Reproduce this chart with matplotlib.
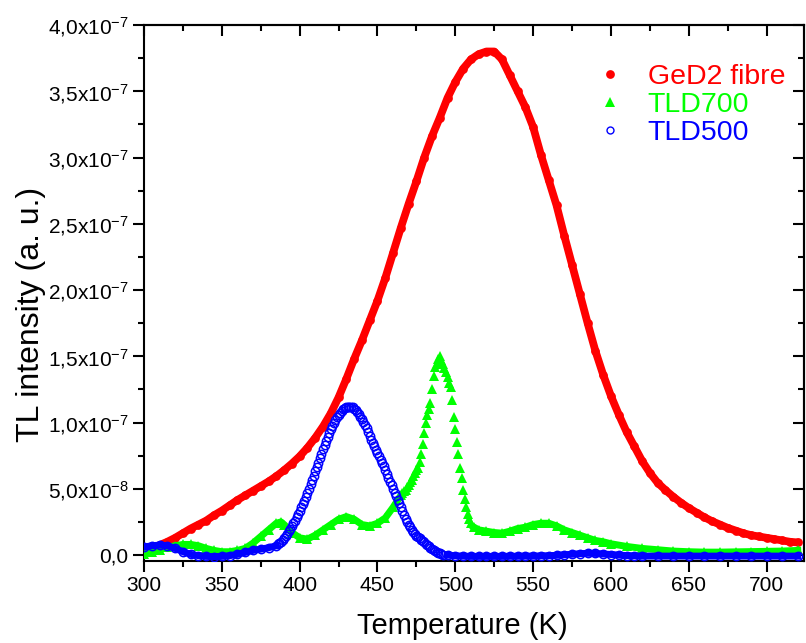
import numpy as np
import matplotlib
matplotlib.use("Agg")
import matplotlib.pyplot as plt
from matplotlib.ticker import MultipleLocator, FuncFormatter
from matplotlib.lines import Line2D

plt.rcParams["font.family"] = ["Liberation Sans", "DejaVu Sans"]
plt.rcParams["mathtext.default"] = "regular"

# --- data (intensity in units of 1e-7 a.u.) ---
red_T = [300, 305, 310, 315, 320, 325, 330, 335, 340, 345, 350, 355, 360, 365, 370, 375,
         380, 385, 390, 395, 400, 405, 410, 415, 420, 425, 430, 435, 440, 445, 450, 455,
         460, 465, 470, 475, 480, 485, 490, 495, 500, 505, 510, 515, 520, 525, 530, 535,
         540, 545, 550, 555, 560, 565, 570, 575, 580, 585, 590, 595, 600, 605, 610, 615,
         620, 625, 630, 635, 640, 645, 650, 655, 660, 665, 670, 675, 680, 685, 690, 695,
         700, 705, 710, 715, 720]
red_I = [0.035, 0.05, 0.075, 0.10, 0.13, 0.165, 0.20, 0.23, 0.26, 0.30, 0.335, 0.375, 0.415, 0.45, 0.485, 0.52,
         0.555, 0.595, 0.64, 0.69, 0.745, 0.81, 0.885, 0.97, 1.07, 1.19, 1.33, 1.48, 1.62, 1.77, 1.92, 2.09,
         2.28, 2.47, 2.65, 2.82, 3.00, 3.16, 3.30, 3.45, 3.57, 3.67, 3.74, 3.78, 3.80, 3.80, 3.74, 3.62,
         3.50, 3.38, 3.23, 3.02, 2.83, 2.64, 2.41, 2.19, 1.97, 1.75, 1.54, 1.36, 1.20, 1.06, 0.93, 0.82,
         0.71, 0.62, 0.545, 0.49, 0.44, 0.395, 0.355, 0.32, 0.285, 0.255, 0.23, 0.205, 0.185, 0.165, 0.15, 0.14,
         0.13, 0.12, 0.11, 0.10, 0.095]

green_T = [300, 305, 310, 315, 320, 325, 330, 335, 340, 345, 350, 355, 360, 365, 370, 375,
           380, 385, 388, 390, 395, 400, 405, 410, 415, 420, 425, 430, 435, 440, 445, 450,
           455, 460, 465,
           466, 467, 468, 469, 470, 471, 472, 473, 474, 475, 476, 477, 478, 479, 480, 481,
           482, 483, 484, 485, 486, 487, 488, 489, 490, 491, 492, 493, 494, 495, 496, 497,
           498, 499, 500, 501, 502, 503, 504, 505, 506, 507, 508, 509, 510,
           512, 515, 520, 525, 530, 535, 540, 545, 550, 555, 560, 565, 570, 575, 580, 585,
           590, 595, 600, 610, 620, 630, 640, 650, 660, 670, 680, 690, 700, 710, 720]
green_I = [0.01, 0.02, 0.04, 0.06, 0.07, 0.08, 0.08, 0.07, 0.05, 0.035, 0.025, 0.025, 0.035, 0.05, 0.09, 0.14,
           0.19, 0.24, 0.25, 0.23, 0.17, 0.13, 0.12, 0.15, 0.19, 0.23, 0.27, 0.29, 0.27, 0.23, 0.22, 0.24,
           0.28, 0.36, 0.45,
           0.47, 0.48, 0.49, 0.51, 0.53, 0.55, 0.57, 0.60, 0.62, 0.64, 0.66, 0.70, 0.76, 0.84, 0.92, 1.00,
           1.06, 1.10, 1.15, 1.25, 1.35, 1.42, 1.44, 1.48, 1.50, 1.47, 1.44, 1.41, 1.38, 1.34, 1.30, 1.27,
           1.17, 1.04, 0.95, 0.85, 0.76, 0.66, 0.58, 0.49, 0.42, 0.36, 0.31, 0.27, 0.24,
           0.21, 0.19, 0.18, 0.17, 0.165, 0.18, 0.20, 0.21, 0.23, 0.24, 0.24, 0.22, 0.19, 0.17, 0.15, 0.13,
           0.11, 0.10, 0.085, 0.065, 0.05, 0.04, 0.03, 0.025, 0.022, 0.022, 0.024, 0.026, 0.028, 0.03, 0.035]

blue_T = [300, 305, 310, 315, 320, 325, 330, 335, 340, 345, 350, 355, 360, 365, 370, 375, 380, 385,
          386, 387, 388, 389, 390, 391, 392, 393, 394, 395, 396, 397, 398, 399, 400, 401, 402, 403,
          404, 405, 406, 407, 408, 409, 410, 411, 412, 413, 414, 415, 416, 417, 418, 419, 420, 421,
          422, 423, 424, 425, 426, 427, 428, 429, 430, 431, 432, 433, 434, 435, 436, 437, 438, 439,
          440, 441, 442, 443, 444, 445, 446, 447, 448, 449, 450, 451, 452, 453, 454, 455, 456, 457,
          458, 459, 460, 461, 462, 463, 464, 465, 466, 467, 468, 469, 470, 471, 472, 473, 474, 475,
          476, 477, 478, 479, 480, 481, 482, 483, 484, 485, 486, 487, 488, 489, 490, 491, 492,
          495, 500, 505, 510, 515, 520, 525, 530, 535, 540, 545, 550, 555, 560, 565, 570, 575, 580,
          585, 590, 595, 600, 605, 610, 615, 620, 630, 640, 650, 660, 670, 680, 690, 700, 710, 720]
blue_I = [0.06, 0.07, 0.075, 0.07, 0.05, 0.025, 0.005, -0.005, -0.01, -0.012, -0.01, -0.005, 0.005, 0.02, 0.035, 0.045, 0.055, 0.07,
          0.08, 0.09, 0.10, 0.11, 0.125, 0.14, 0.16, 0.18, 0.20, 0.22, 0.24, 0.26, 0.285, 0.31, 0.335, 0.36, 0.385, 0.41,
          0.44, 0.47, 0.50, 0.535, 0.57, 0.60, 0.635, 0.665, 0.695, 0.73, 0.765, 0.80, 0.83, 0.86, 0.89, 0.92, 0.95, 0.975,
          1.00, 1.02, 1.04, 1.06, 1.075, 1.09, 1.10, 1.11, 1.115, 1.12, 1.12, 1.12, 1.115, 1.105, 1.095, 1.08, 1.065, 1.045,
          1.025, 1.005, 0.98, 0.955, 0.93, 0.90, 0.87, 0.845, 0.82, 0.795, 0.77, 0.745, 0.72, 0.695, 0.67, 0.64, 0.61, 0.58,
          0.55, 0.525, 0.50, 0.47, 0.445, 0.415, 0.39, 0.36, 0.33, 0.30, 0.27, 0.25, 0.23, 0.21, 0.19, 0.175, 0.16, 0.145,
          0.135, 0.125, 0.115, 0.105, 0.095, 0.085, 0.075, 0.065, 0.055, 0.045, 0.037, 0.03, 0.023, 0.017, 0.012, 0.007, 0.003,
          0.0, -0.006, -0.008, -0.01, -0.01, -0.01, -0.01, -0.01, -0.009, -0.009, -0.008, -0.008, -0.006, -0.005, -0.002, 0.002, 0.006, 0.01,
          0.013, 0.012, 0.008, 0.004, 0.0, -0.004, -0.006, -0.008, -0.008, -0.008, -0.008, -0.008, -0.008, -0.008, -0.008, -0.008, -0.008, -0.008]

labels = ["GeD2 fibre", "TLD700", "TLD500"]
colors = ["#ff0000", "#00ff00", "#0000ff"]

scale = 1e-7
rT, rI = np.array(red_T), np.array(red_I) * scale
gT, gI = np.array(green_T), np.array(green_I) * scale
bT, bI = np.array(blue_T), np.array(blue_I) * scale

fig = plt.figure(figsize=(8.06, 6.43), dpi=100)
ax = fig.add_axes([144 / 806, 1 - 561 / 643, 660 / 806, 536 / 643])

# red: dense filled circles -> thick line + dots
ax.plot(rT, rI, color=colors[0], lw=5.6, solid_capstyle="round", zorder=2)
ax.plot(rT, rI, "o", color=colors[0], ms=6.3, mew=0, zorder=2)

# green: band away from the sharp peak, separate triangles on the peak
g_line = np.where((gT > 465) & (gT < 512), np.nan, gI)
ax.plot(gT, g_line, color=colors[1], lw=5, zorder=3)
ax.plot(gT, gI, "^", color=colors[1], ms=6.8, mew=0, zorder=3)

# blue: open circles
b_line = np.where((bT > 385) & (bT < 493), np.nan, bI)
ax.plot(bT, b_line, color=colors[2], lw=5, zorder=4)
ax.plot(bT, bI, "o", mfc="none", mec=colors[2], ms=6, mew=1.1, zorder=4)

ax.set_xlim(300, 724)
ax.set_ylim(-0.045e-7, 4.0e-7)

ax.xaxis.set_major_locator(MultipleLocator(50))
ax.xaxis.set_minor_locator(MultipleLocator(25))
ax.yaxis.set_major_locator(MultipleLocator(0.5e-7))
ax.yaxis.set_minor_locator(MultipleLocator(0.25e-7))


def sci_comma(v, pos):
    if abs(v) < 1e-12:
        return "0,0"
    e = int(np.floor(np.log10(abs(v)) + 1e-9))
    m = v / 10 ** e
    return f"{m:.1f}".replace(".", ",") + "x10$^{" + str(e) + "}$"


ax.yaxis.set_major_formatter(FuncFormatter(sci_comma))

for sp in ax.spines.values():
    sp.set_linewidth(1.5)
ax.tick_params(which="both", direction="out", width=1.5, labelsize=15, top=False, right=False)
ax.tick_params(which="major", length=8)
ax.tick_params(which="minor", length=4.5)
ax.tick_params(axis="y", pad=3)
ax.tick_params(axis="x", pad=3)

# top / right ticks point inwards
secx = ax.secondary_xaxis("top")
secx.xaxis.set_major_locator(MultipleLocator(50))
secx.xaxis.set_minor_locator(MultipleLocator(25))
secx.tick_params(which="both", direction="in", width=1.5, labeltop=False)
secx.tick_params(which="major", length=8)
secx.tick_params(which="minor", length=4.5)
secx.spines["top"].set_linewidth(1.5)
secy = ax.secondary_yaxis("right")
secy.yaxis.set_major_locator(MultipleLocator(0.5e-7))
secy.yaxis.set_minor_locator(MultipleLocator(0.25e-7))
secy.tick_params(which="both", direction="in", width=1.5, labelright=False)
secy.tick_params(which="major", length=8)
secy.tick_params(which="minor", length=4.5)
secy.spines["right"].set_linewidth(1.5)

ax.set_xlabel("Temperature (K)", fontsize=21, labelpad=12, x=0.483)
ax.set_ylabel("TL intensity (a. u.)", fontsize=23, labelpad=1, y=0.46)

handles = [
    Line2D([], [], ls="none", marker="o", color=colors[0], ms=6.3, mew=0),
    Line2D([], [], ls="none", marker="^", color=colors[1], ms=6.5, mew=0),
    Line2D([], [], ls="none", marker="o", mfc="none", mec=colors[2], ms=5, mew=1.0),
]
ax.legend(handles, labels, loc="upper left", bbox_to_anchor=(0.684, 0.928), frameon=False,
          fontsize=20.5, labelcolor=colors, handlelength=1.0, handletextpad=0.83,
          labelspacing=0.085, borderpad=0, borderaxespad=0)

fig.savefig("out.png", dpi=100)
